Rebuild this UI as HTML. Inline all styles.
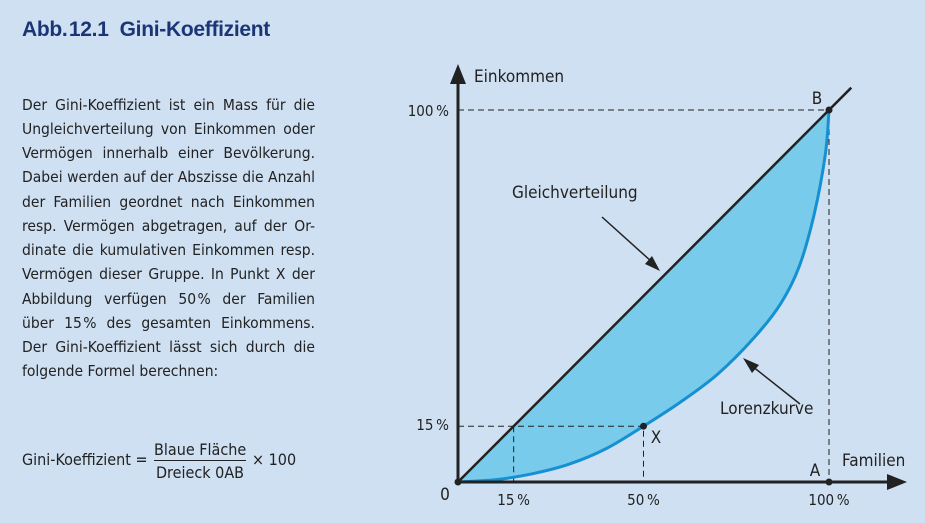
<!DOCTYPE html>
<html><head><meta charset="utf-8"><style>
body{margin:0;width:925px;height:523px;background:#cfe0f2;overflow:hidden;position:relative;font-family:"Liberation Sans Narrow","DejaVu Sans Condensed","Liberation Sans",sans-serif;color:#222}
#title{position:absolute;left:22px;top:18px;font-family:"Liberation Sans",sans-serif;font-weight:bold;font-size:21px;color:#1b3675;letter-spacing:-0.3px}
.ln{position:absolute;left:22px;width:293px;font-size:15.5px;text-align:justify;text-align-last:justify;white-space:nowrap;line-height:18px}
.ln.last{text-align-last:left}
svg{position:absolute;left:0;top:0}
svg text{font-family:"Liberation Sans Narrow","DejaVu Sans Condensed","Liberation Sans",sans-serif;fill:#222}
</style></head><body>
<div id="title">Abb.&#8202;12.1&nbsp; Gini-Koeffizient</div>
<div>
<div class="ln" style="top:96px">Der Gini-Koeffizient ist ein Mass für die</div>
<div class="ln" style="top:120px">Ungleichverteilung von Einkommen oder</div>
<div class="ln" style="top:144px">Vermögen innerhalb einer Bevölkerung.</div>
<div class="ln" style="top:168px">Dabei werden auf der Abszisse die Anzahl</div>
<div class="ln" style="top:193px">der Familien geordnet nach Einkommen</div>
<div class="ln" style="top:217px">resp. Vermögen abgetragen, auf der Or-</div>
<div class="ln" style="top:241px">dinate die kumulativen Einkommen resp.</div>
<div class="ln" style="top:265px">Vermögen dieser Gruppe. In Punkt X der</div>
<div class="ln" style="top:290px">Abbildung verfügen 50&#8202;% der Familien</div>
<div class="ln" style="top:314px">über 15&#8202;% des gesamten Einkommens.</div>
<div class="ln" style="top:338px">Der Gini-Koeffizient lässt sich durch die</div>
<div class="ln last" style="top:362px">folgende Formel berechnen:</div>
</div>
<div style="position:absolute;left:22px;top:440px;font-size:16px;white-space:nowrap">
<span style="position:absolute;top:10px">Gini-Koeffizient =</span>
<span style="position:absolute;left:132px;top:0;text-align:center;width:92px"><span style="display:block;border-bottom:1px solid #222;padding-bottom:1px">Blaue Fläche</span><span style="display:block;padding-top:2px">Dreieck 0AB</span></span>
<span style="position:absolute;left:230px;top:10px">× 100</span>
</div>
<svg id="chart" width="925" height="523"></svg>
<script>
const lorenzX=[0,10,20,30,40,50,60,70,80,87,92,96,99,100];
const lorenzY=[0,0.6,2.2,4.8,9,15,21.5,29,39,48,58,72,88,100];
const pointX=[50,15];
const labels=["Einkommen","Familien","Gleichverteilung","Lorenzkurve"];
const ns="http://www.w3.org/2000/svg";
const svg=document.getElementById('chart');
const x0=458,y0=482,x1=829,y1=110;
const sx=v=>x0+(x1-x0)*v/100, sy=v=>y0-(y0-y1)*v/100;
function el(t,a,p){const e=document.createElementNS(ns,t);for(const k in a)e.setAttribute(k,a[k]);(p||svg).appendChild(e);return e;}
function smooth(){const p=lorenzX.map((x,i)=>[sx(x),sy(lorenzY[i])]);let d='M'+p[0].join(',');for(let i=0;i<p.length-1;i++){const a=p[Math.max(0,i-1)],b=p[i],c=p[i+1],e=p[Math.min(p.length-1,i+2)];const c1=[b[0]+(c[0]-a[0])/6,b[1]+(c[1]-a[1])/6],c2=[c[0]-(e[0]-b[0])/6,c[1]-(e[1]-b[1])/6];d+=' C'+c1.map(v=>v.toFixed(1)).join(',')+' '+c2.map(v=>v.toFixed(1)).join(',')+' '+c.map(v=>v.toFixed(1)).join(',');}return d;}
const curve=smooth();
let e=el('path',{d:curve+' L'+sx(0)+','+sy(0)+'Z',fill:'#78cbea'});

const dash={stroke:'#222','stroke-width':1,'stroke-dasharray':'6,4',fill:'none'};
e=el('path',Object.assign({d:`M${sx(0)},${sy(100)} H${sx(100)} V${sy(0)}`},dash));

e=el('path',Object.assign({d:`M${sx(0)},${sy(pointX[1])} H${sx(pointX[0])} V${sy(0)} M${sx(pointX[1])},${sy(pointX[1])} V${sy(0)}`},dash));

e=el('path',{d:curve,fill:'none',stroke:'#1590d2','stroke-width':3});

e=el('line',{x1:sx(0),y1:sy(0),x2:sx(106),y2:sy(106),stroke:'#222','stroke-width':2.5});

e=el('path',{d:`M${x0},${y0} V78 M${x0},${y0} H893`,stroke:'#222','stroke-width':3,fill:'none'});

e=el('path',{d:`M${x0},64 L${x0-8},84 L${x0+8},84Z M907,${y0} L887,${y0-8} L887,${y0+8}Z`,fill:'#222'});

[[0,0],[100,0],[100,100],pointX].forEach(p=>{e=el('circle',{cx:sx(p[0]),cy:sy(p[1]),r:3.5,fill:'#222'});});
e=el('path',{d:'M602,217 L652,262 M752,366 L800,404',stroke:'#222','stroke-width':1.5,fill:'none'});

e=el('path',{d:'M660,271 L645,264 L652,256Z M743,358 L759,365 L752,373Z',fill:'#222'});

function txt(s,x,y,anchor,name,size){const t=el('text',{x:x,y:y,'font-size':size||16,'text-anchor':anchor||'start'});t.textContent=s;}
txt(labels[0],474,82,'start','y-axis-title',17);
txt(labels[1],842,466,'start','x-axis-title',17);
txt(labels[2],512,198,'start','label-gleichverteilung',17);
txt(labels[3],720,414,'start','label-lorenzkurve',17);
txt('100\u2009%',449,116,'end','y-tick-100',15);
txt('15\u2009%',449,430,'end','y-tick-15',15);
txt('15\u2009%',sx(15),505,'middle','x-tick-15',15);
txt('50\u2009%',sx(50),505,'middle','x-tick-50',15);
txt('100\u2009%',sx(100),505,'middle','x-tick-100',15);
txt('0',445,500,'middle','origin-label',17);
txt('A',815,476,'middle','label-a',17);
txt('B',817,104,'middle','label-b',17);
txt('X',656,443,'middle','label-x',17);
</script>
</body></html>
